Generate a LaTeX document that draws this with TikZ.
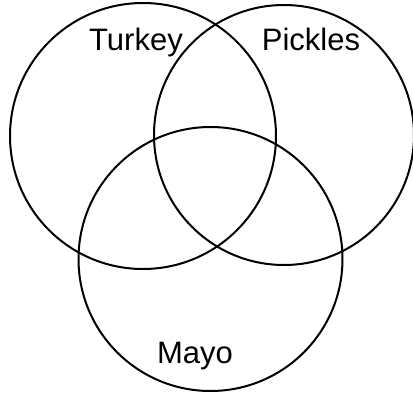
\documentclass[tikz,border=0pt]{standalone}
\usepackage{fontspec}
\setmainfont{Liberation Sans}
\usetikzlibrary{positioning}

\begin{document}
\begin{tikzpicture}[x=1pt,y=-1pt,font=\fontsize{31}{37}\selectfont]
    \tikzset{
      set/.style={draw, circle, line width=2pt, inner sep=0pt},
      setname/.style={anchor=base, inner sep=0pt}
    }
    \useasboundingbox (0,0) rectangle (413,394);
    \node[set, minimum size=266pt] (turkey) at (143,136) {};
    \node[set, minimum size=260pt] (pickles) at (284,135) {};
    \node[set, minimum size=264pt] (mayo) at (210.5,259) {};
    \node[setname] (turkeyname) at (136,50) {Turkey};
    \node[setname] (picklesname) at (311,50) {Pickles};
    \node[setname] (mayoname) at (195,363) {Mayo};
\end{tikzpicture}
\end{document}
